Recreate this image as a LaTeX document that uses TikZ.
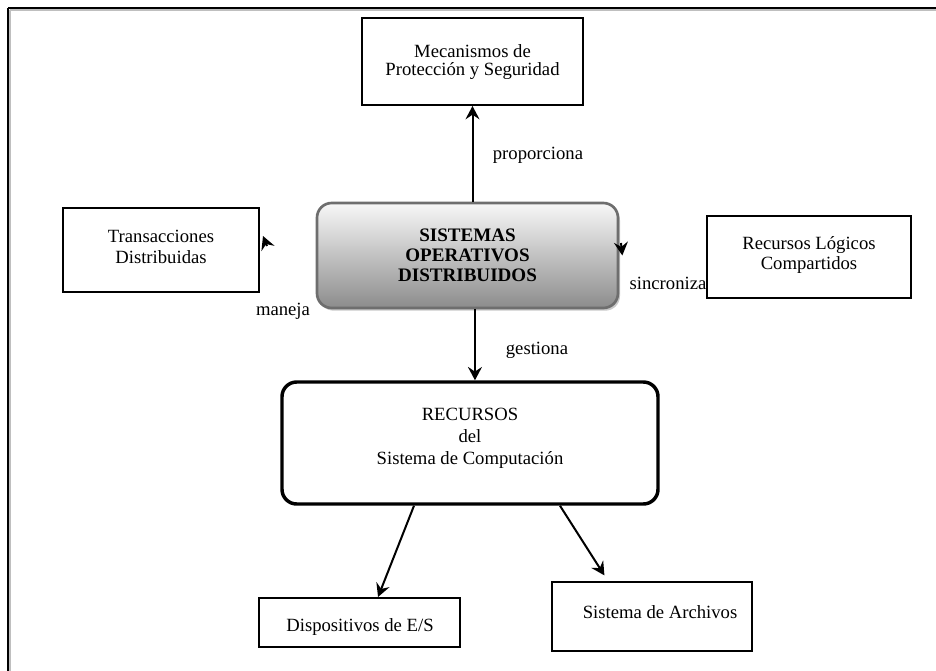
\documentclass[tikz,border=0pt]{standalone}
\usepackage{fontspec}
\setmainfont{Liberation Serif}
\usetikzlibrary{arrows.meta,shadows}
\begin{document}
\begin{tikzpicture}[x=0.75pt,y=-0.75pt,
  box/.style={draw=black,line width=1.5pt,rectangle,align=center,inner sep=0pt,
    font=\fontsize{14}{14.5}\selectfont},
  lbl/.style={font=\fontsize{14}{14.5}\selectfont,inner sep=0pt},
  arr/.style={draw=black,line width=1.5pt,-{Stealth[length=10pt,width=10.5pt,inset=3.5pt]}},
  sod/.style={draw=black!57,line width=2pt,rounded corners=11pt,align=center,
    top color=white!97!black,bottom color=black!45,
    drop shadow={shadow xshift=1.5pt,shadow yshift=-2pt,fill=black!35,opacity=0.6},
    font=\bfseries\fontsize{14.3}{15}\selectfont},
  rec/.style={draw=black,line width=2.6pt,rounded corners=11pt,align=center,
    font=\fontsize{14}{16.5}\selectfont}]
\useasboundingbox (0,0) rectangle (936,671);
% frame
\draw[black!25,line width=1pt] (10,10) -- (936,10);
\draw[black!25,line width=1pt] (10,10) -- (10,671);
\draw[black,line width=1.5pt] (8,8) -- (936,8);
\draw[black,line width=1.5pt] (8,8) -- (8,671);

\node[box,minimum width=165.75pt,minimum height=65.25pt] (mec) at (472.5,61.5) {};
\node[lbl,align=center,font=\fontsize{14}{13.8}\selectfont] (mect) at (472.5,62) {Mecanismos de\\Protección y Seguridad};

\node[sod,minimum width=225.75pt,minimum height=78.75pt] (sod) at (467.5,255.5) {SISTEMAS\\OPERATIVOS\\DISTRIBUIDOS};

\node[box,minimum width=147pt,minimum height=63pt] (tra) at (161,250) {};
\node[lbl,align=center,font=\fontsize{14}{15.5}\selectfont] (trat) at (161,247) {Transacciones\\Distribuidas};

\node[box,minimum width=153pt,minimum height=61.5pt] (rlc) at (809,257) {};
\node[lbl,align=center,font=\fontsize{14}{15}\selectfont] (rlct) at (809,255) {Recursos Lógicos\\Compartidos};

\node[rec,minimum width=282pt,minimum height=91.5pt] (rec) at (470,443) {};
\node[lbl,align=center,font=\fontsize{14}{16.5}\selectfont] (rect) at (470,438) {RECURSOS\\del\\Sistema de Computación};

\node[box,minimum width=150.75pt,minimum height=36.75pt] (dis) at (359.5,622.5) {};
\node[lbl] (dist) at (360,627) {Dispositivos de E/S};

\node[box,minimum width=150pt,minimum height=51.75pt] (arc) at (652,616.5) {};
\node[lbl] (arct) at (660,612) {Sistema de Archivos};

% labels
\node[lbl] (lprop) at (538,155) {proporciona};
\node[lbl] (lman) at (283,311) {maneja};
\node[lbl] (lsin) at (668,283) {sincroniza};
\node[lbl] (lges) at (537,350) {gestiona};

% connectors
\draw[arr] ([xshift=3.75pt]sod.north) -- ([xshift=3.75pt]sod.north |- mec.south);
\draw[arr] ([xshift=5.6pt]sod.south) -- ([xshift=5.6pt]sod.south |- rec.north);
\draw[arr] ([xshift=-42pt]rec.south) -- ([xshift=13.9pt]dis.north);
\draw[arr,shorten >=5pt] ([xshift=67.5pt]rec.south) -- ([xshift=-33pt]arc.north);
\coordinate (mt) at (267,246);
\draw[arr] (mt) -- ([xshift=2.25pt,yshift=10.5pt]tra.east);
\coordinate (st) at (621,243);
\draw[arr] (st) -- ([xshift=2.25pt]sod.east);
\end{tikzpicture}
\end{document}
